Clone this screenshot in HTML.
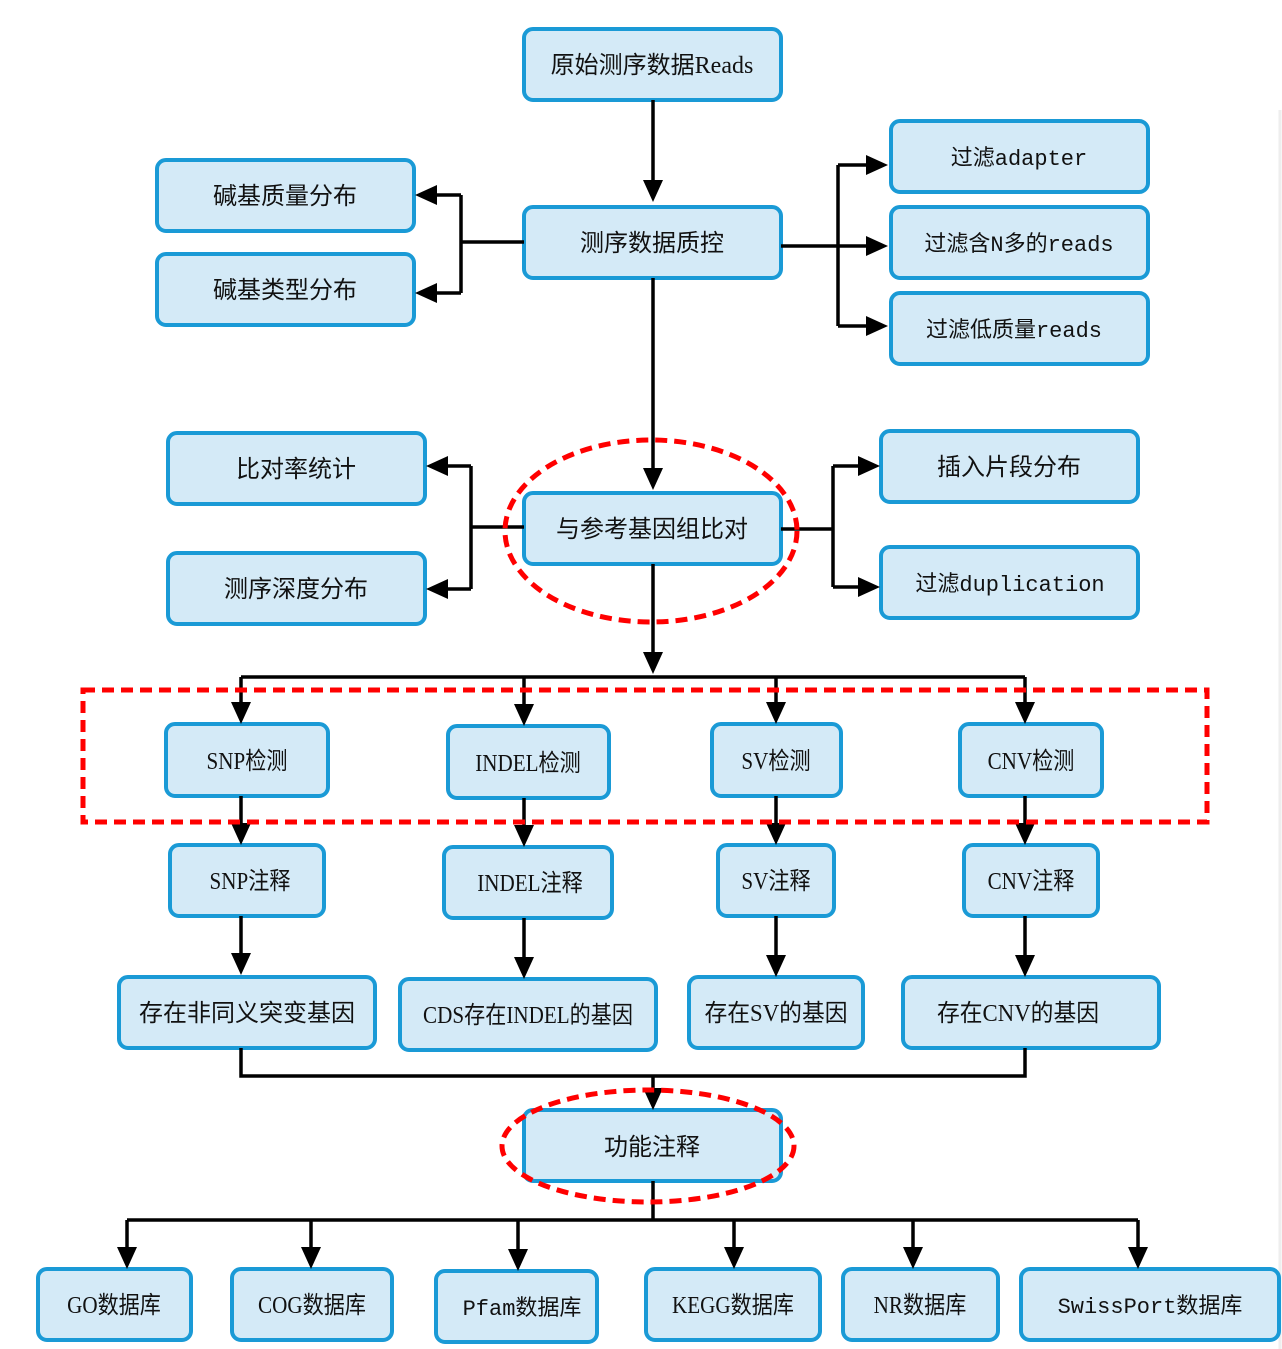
<!DOCTYPE html>
<html><head><meta charset="utf-8"><style>
html,body{margin:0;padding:0;background:#fff;}
svg{display:block;}
text{font-family:"Liberation Sans","Noto Sans CJK SC",sans-serif;font-size:24px;fill:#111;}
text.m{font-family:"Liberation Mono","Noto Sans CJK SC",monospace;font-size:22px;}
text.s,.s text{font-family:"Liberation Serif","Noto Sans CJK SC",serif;}
</style></head><body>
<svg width="1282" height="1349" viewBox="0 0 1282 1349" xmlns="http://www.w3.org/2000/svg">
<line x1="1280" y1="110" x2="1280" y2="1349" stroke="#eee" stroke-width="3"/>
<g fill="#d4eaf7" stroke="#1a9ad6" stroke-width="4">
<rect x="524" y="29" width="257" height="71" rx="9"/>
<rect x="524" y="207" width="257" height="71" rx="9"/>
<rect x="157" y="160" width="257" height="71" rx="9"/>
<rect x="157" y="254" width="257" height="71" rx="9"/>
<rect x="891" y="121" width="257" height="71" rx="9"/>
<rect x="891" y="207" width="257" height="71" rx="9"/>
<rect x="891" y="293" width="257" height="71" rx="9"/>
<rect x="168" y="433" width="257" height="71" rx="9"/>
<rect x="168" y="553" width="257" height="71" rx="9"/>
<rect x="524" y="493" width="257" height="71" rx="9"/>
<rect x="881" y="431" width="257" height="71" rx="9"/>
<rect x="881" y="547" width="257" height="71" rx="9"/>
<rect x="166" y="724" width="162" height="72" rx="9"/>
<rect x="448" y="726" width="161" height="72" rx="9"/>
<rect x="712" y="724" width="129" height="72" rx="9"/>
<rect x="960" y="724" width="142" height="72" rx="9"/>
<rect x="170" y="845" width="154" height="71" rx="9"/>
<rect x="444" y="847" width="168" height="71" rx="9"/>
<rect x="718" y="845" width="116" height="71" rx="9"/>
<rect x="964" y="845" width="134" height="71" rx="9"/>
<rect x="119" y="977" width="256" height="71" rx="9"/>
<rect x="400" y="979" width="256" height="71" rx="9"/>
<rect x="689" y="977" width="174" height="71" rx="9"/>
<rect x="903" y="977" width="256" height="71" rx="9"/>
<rect x="524" y="1110" width="257" height="71" rx="9"/>
<rect x="38" y="1269" width="153" height="71" rx="9"/>
<rect x="232" y="1269" width="160" height="71" rx="9"/>
<rect x="436" y="1271" width="161" height="71" rx="9"/>
<rect x="646" y="1269" width="174" height="71" rx="9"/>
<rect x="843" y="1269" width="155" height="71" rx="9"/>
<rect x="1021" y="1269" width="258" height="71" rx="9"/>
</g>
<g stroke="#000" stroke-width="3.5" fill="none">
<path d="M653 100V182"/>
<path d="M524 242H461M461 195V293M461 195H435M461 293H435"/>
<path d="M781 246H838M838 165V326M838 165H868M838 246H868M838 326H868"/>
<path d="M653 278V470"/>
<path d="M524 527H471M471 466V589M471 466H446M471 589H446"/>
<path d="M781 529H833M833 466V587M833 466H860M833 587H860"/>
<path d="M653 564V654"/>
<path d="M241 677H1025M241 677V704M524 677V706M776 677V704M1025 677V704"/>
<path d="M241 796V825M524 798V827M776 796V825M1025 796V825"/>
<path d="M241 916V955M524 918V959M776 916V957M1025 916V957"/>
<path d="M241 1048V1076H1025V1048M653 1076V1090"/>
<path d="M653 1181V1220M127 1220H1138M127 1220V1249M311 1220V1249M518 1220V1251M734 1220V1249M913 1220V1249M1138 1220V1249"/>
</g>
<g fill="#000">
<path d="M643 180L663 180L653 202Z"/>
<path d="M437 185L437 205L415 195Z"/><path d="M437 283L437 303L415 293Z"/>
<path d="M866 155L866 175L888 165Z"/><path d="M866 236L866 256L888 246Z"/><path d="M866 316L866 336L888 326Z"/>
<path d="M643 468L663 468L653 490Z"/>
<path d="M448 456L448 476L426 466Z"/><path d="M448 579L448 599L426 589Z"/>
<path d="M858 456L858 476L880 466Z"/><path d="M858 577L858 597L880 587Z"/>
<path d="M643 652L663 652L653 674Z"/>
<path d="M231 702L251 702L241 724Z"/><path d="M514 704L534 704L524 726Z"/><path d="M766 702L786 702L776 724Z"/><path d="M1015 702L1035 702L1025 724Z"/>
<path d="M231 823L251 823L241 845Z"/><path d="M514 825L534 825L524 847Z"/><path d="M766 823L786 823L776 845Z"/><path d="M1015 823L1035 823L1025 845Z"/>
<path d="M231 953L251 953L241 975Z"/><path d="M514 957L534 957L524 979Z"/><path d="M766 955L786 955L776 977Z"/><path d="M1015 955L1035 955L1025 977Z"/>
<path d="M643 1088L663 1088L653 1110Z"/>
<path d="M117 1247L137 1247L127 1269Z"/><path d="M301 1247L321 1247L311 1269Z"/><path d="M508 1249L528 1249L518 1271Z"/><path d="M724 1247L744 1247L734 1269Z"/><path d="M903 1247L923 1247L913 1269Z"/><path d="M1128 1247L1148 1247L1138 1269Z"/>
</g>
<g fill="none" stroke="#f00" stroke-width="5" stroke-dasharray="12 7">
<ellipse cx="651" cy="531" rx="146" ry="91"/>
<rect x="83" y="690" width="1124" height="132"/>
<ellipse cx="648" cy="1146" rx="146" ry="56"/>
</g>
<g text-anchor="middle">
<text x="652" y="73" class="s">原始测序数据Reads</text>
<text x="652" y="251">测序数据质控</text>
<text x="285" y="204">碱基质量分布</text>
<text x="285" y="298">碱基类型分布</text>
<text x="1019" y="165" class="m">过滤adapter</text>
<text x="1019" y="251" class="m">过滤含N多的reads</text>
<text x="1014" y="337" class="m">过滤低质量reads</text>
<text x="296" y="477">比对率统计</text>
<text x="296" y="597">测序深度分布</text>
<text x="652" y="537">与参考基因组比对</text>
<text x="1009" y="475">插入片段分布</text>
<text x="1010" y="591" class="m">过滤duplication</text>
<g class="s">
<text x="247" y="769" transform="translate(247 0) scale(0.88 1) translate(-247 0)">SNP检测</text>
<text x="528" y="771" transform="translate(528 0) scale(0.88 1) translate(-528 0)">INDEL检测</text>
<text x="776" y="769" transform="translate(776 0) scale(0.88 1) translate(-776 0)">SV检测</text>
<text x="1031" y="769" transform="translate(1031 0) scale(0.88 1) translate(-1031 0)">CNV检测</text>
<text x="250" y="889" transform="translate(250 0) scale(0.88 1) translate(-250 0)">SNP注释</text>
<text x="530" y="891" transform="translate(530 0) scale(0.88 1) translate(-530 0)">INDEL注释</text>
<text x="776" y="889" transform="translate(776 0) scale(0.88 1) translate(-776 0)">SV注释</text>
<text x="1031" y="889" transform="translate(1031 0) scale(0.88 1) translate(-1031 0)">CNV注释</text>
<text x="528" y="1023" transform="translate(528 0) scale(0.88 1) translate(-528 0)">CDS存在INDEL的基因</text>
<text x="776" y="1021" transform="translate(776 0) scale(0.95 1) translate(-776 0)">存在SV的基因</text>
<text x="1018" y="1021" transform="translate(1018 0) scale(0.95 1) translate(-1018 0)">存在CNV的基因</text>
<text x="114" y="1313" transform="translate(114 0) scale(0.88 1) translate(-114 0)">GO数据库</text>
<text x="312" y="1313" transform="translate(312 0) scale(0.88 1) translate(-312 0)">COG数据库</text>
<text x="733" y="1313" transform="translate(733 0) scale(0.88 1) translate(-733 0)">KEGG数据库</text>
<text x="920" y="1313" transform="translate(920 0) scale(0.88 1) translate(-920 0)">NR数据库</text>
</g>
<text x="522" y="1315" class="m">Pfam数据库</text>
<text x="247" y="1021">存在非同义突变基因</text>
<text x="652" y="1155">功能注释</text>
<text x="1150" y="1313" class="m">SwissPort数据库</text>
</g>
</svg>
</body></html>
